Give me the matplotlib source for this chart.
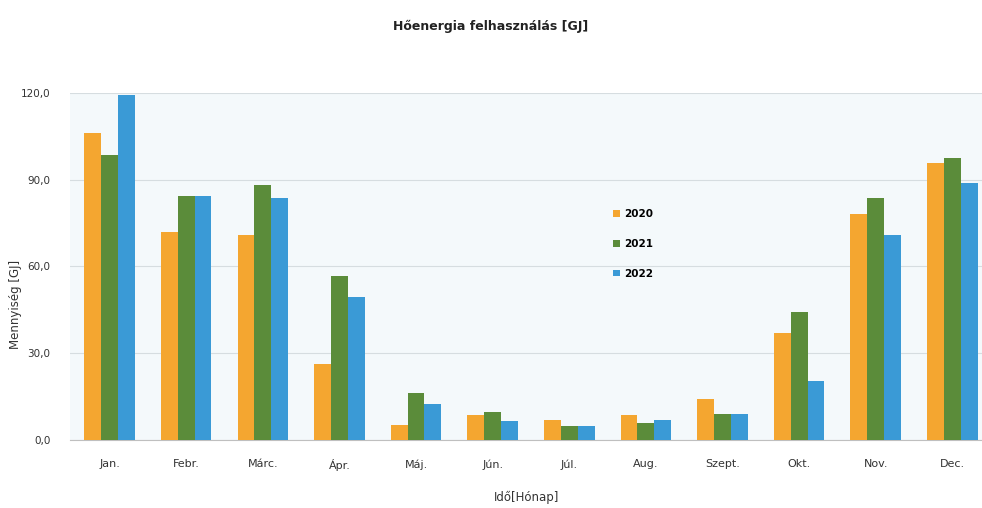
import matplotlib
matplotlib.use("Agg")
import matplotlib.pyplot as plt
import numpy as np

plt.rcParams['font.family'] = ['DejaVu Sans']

# adatok (GJ)
honapok = ['Jan.', 'Febr.', 'Márc.', 'Ápr.', 'Máj.', 'Jún.', 'Júl.', 'Aug.',
           'Szept.', 'Okt.', 'Nov.', 'Dec.']
ev_2020 = [106.0, 72.0, 71.0, 26.3, 5.2, 8.7, 6.9, 8.7, 14.2, 37.0, 78.0, 95.7]
ev_2021 = [98.6, 84.4, 88.2, 56.7, 16.3, 9.7, 4.8, 5.9, 9.0, 44.3, 83.5, 97.5]
ev_2022 = [119.4, 84.4, 83.7, 49.5, 12.5, 6.6, 4.8, 6.9, 9.0, 20.4, 71.0, 89.0]
evek = ['2020', '2021', '2022']
szinek = ['#F4A630', '#5B8C3A', '#3A9AD6']

fig = plt.figure(figsize=(9.82, 5.08), dpi=100)
ax = fig.add_axes([0.071, 0.134, 0.93, 0.683])
ax.set_facecolor('#f4f9fb')

x = np.arange(len(honapok))
w = 0.22
for i, (vals, nev, c) in enumerate(zip([ev_2020, ev_2021, ev_2022], evek, szinek)):
    ax.bar(x + (i - 1) * w, vals, w, color=c, label=nev, zorder=3)

ax.set_ylim(0, 120)
ax.set_xlim(-0.52, 11.4)
ax.set_yticks([0, 30, 60, 90, 120])
ax.set_yticklabels(['0,0', '30,0', '60,0', '90,0', '120,0'], fontsize=7.5, color='#333333')
ax.set_xticks(x)
ax.set_xticklabels(honapok, fontsize=8, color='#333333')
ax.tick_params(length=0, pad=14)
ax.tick_params(axis='y', pad=14)
ax.grid(axis='y', color='#d6dde0', linewidth=0.8, zorder=0)
for s in ['top', 'right', 'left']:
    ax.spines[s].set_visible(False)
ax.spines['bottom'].set_color('#bfbfbf')

ax.set_ylabel('Mennyiség [GJ]', fontsize=8.5, color='#333333')
ax.yaxis.set_label_coords(-0.052, 0.39)
ax.set_xlabel('Idő[Hónap]', fontsize=8.5, color='#333333', labelpad=14)
fig.text(0.5, 0.94, 'Hőenergia felhasználás [GJ]', ha='center', fontsize=9,
         fontweight='bold', color='#222222')

leg = ax.legend(loc='center left', bbox_to_anchor=(0.585, 0.565), frameon=False,
                fontsize=7.5, handlelength=0.6, handleheight=0.6,
                labelspacing=1.9, handletextpad=0.4)
for t in leg.get_texts():
    t.set_fontweight('bold')

fig.savefig('out.png', dpi=100)
